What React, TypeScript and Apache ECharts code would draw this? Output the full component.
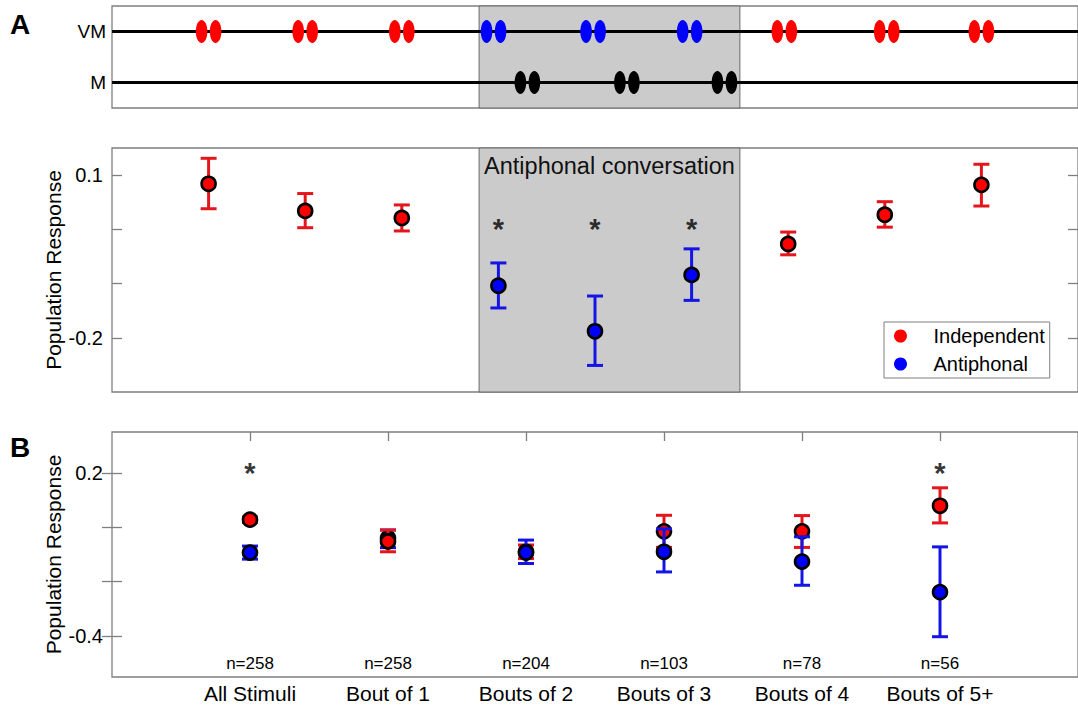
import React, { useEffect, useRef } from 'react';
import * as echarts from 'echarts';

const FONT = '"Liberation Sans", Arial, Helvetica, sans-serif';
const GREY = '#7f7f7f';
const SHADE = '#cbcbcb';
const RED = '#ff0000';
const BLUE = '#0000ff';
const RED_BAR = '#e4161c';
const BLUE_BAR = '#1414e6';

// Panel A, schematic: call pairs along each stream (x in stimulus slots)
const streamRows = ['M', 'VM'];
const vmIndependentCalls = [1, 2, 3, 6.96, 8.02, 9.0];
const vmAntiphonalCalls = [3.95, 4.98, 5.98];
const mCalls = [4.3, 5.33, 6.34];
const conversationStart = 3.8;
const conversationEnd = 6.5;

// Panel A, responses per call slot
const aIndependentSlot = [1, 2, 3, 7, 8, 9];
const aIndependentMean = [0.084, 0.034, 0.021, -0.027, 0.027, 0.082];
const aIndependentLow = [0.038, 0.003, -0.003, -0.047, 0.004, 0.043];
const aIndependentHigh = [0.131, 0.066, 0.045, -0.005, 0.051, 0.12];
const aAntiphonalSlot = [4, 5, 6];
const aAntiphonalMean = [-0.104, -0.188, -0.084];
const aAntiphonalLow = [-0.145, -0.251, -0.131];
const aAntiphonalHigh = [-0.062, -0.123, -0.036];
const aSignificantSlot = [4, 5, 6];
const aStarLevel = 0;
const aYTicks = [-0.2, -0.1, 0, 0.1];
const aYLabels = [-0.2, 0.1];

// Panel B, responses per bout length
const bCategories = ['All Stimuli', 'Bout of 1', 'Bouts of 2', 'Bouts of 3', 'Bouts of 4', 'Bouts of 5+'];
const bCounts = [258, 258, 204, 103, 78, 56];
const bIndependentMean = [0.028, -0.052, -0.09, -0.015, -0.015, 0.079];
const bIndependentLow = [0.018, -0.09, -0.115, -0.074, -0.074, 0.016];
const bIndependentHigh = [0.038, -0.01, -0.065, 0.044, 0.043, 0.145];
const bAntiphonalMean = [-0.093, -0.04, -0.093, -0.09, -0.126, -0.238];
const bAntiphonalLow = [-0.117, -0.075, -0.133, -0.164, -0.213, -0.402];
const bAntiphonalHigh = [-0.069, -0.01, -0.047, -0.006, -0.035, -0.072];
const bIndependentInFront = [false, true, false, false, false, false];
const bSignificant = [true, false, false, false, false, true];
const bStarLevel = 0.2;
const bYTicks = [-0.4, -0.2, 0, 0.2];
const bYLabels = [-0.4, 0.2];
const bSlots = bCategories.map((_, i) => i + 1);

function callPairItem(color: string) {
  return (_params: any, api: any) => {
    const c = api.coord([api.value(0), api.value(1)]);
    return {
      type: 'group',
      children: [-7, 7].map((dx) => ({
        type: 'ellipse',
        shape: { cx: c[0] + dx, cy: c[1], rx: 5.8, ry: 11.5 },
        style: { fill: color },
      })),
    };
  };
}

function errorBarShapes(api: any, barColor: string, fillColor: string) {
  const x = api.value(0);
  const mid = api.coord([x, api.value(1)]);
  const lo = api.coord([x, api.value(2)]);
  const hi = api.coord([x, api.value(3)]);
  const half = 8;
  const barStyle = { stroke: barColor, lineWidth: 3 };
  return [
    { type: 'line', shape: { x1: mid[0], y1: lo[1], x2: mid[0], y2: hi[1] }, style: barStyle },
    { type: 'line', shape: { x1: mid[0] - half, y1: hi[1], x2: mid[0] + half, y2: hi[1] }, style: barStyle },
    { type: 'line', shape: { x1: mid[0] - half, y1: lo[1], x2: mid[0] + half, y2: lo[1] }, style: barStyle },
    {
      type: 'circle',
      shape: { cx: mid[0], cy: mid[1], r: 7 },
      style: { fill: fillColor, stroke: '#000', lineWidth: 2.6 },
    },
  ];
}

function errorBarItem(barColor: string, fillColor: string) {
  return (_params: any, api: any) => ({
    type: 'group',
    children: errorBarShapes(api, barColor, fillColor),
  });
}

// Panel B: both groups in one series so each column keeps its own stacking order
function buildBoutRows() {
  const rows: number[][] = [];
  bSlots.forEach((slot, i) => {
    const ind = [slot, bIndependentMean[i], bIndependentLow[i], bIndependentHigh[i], 0];
    const anti = [slot, bAntiphonalMean[i], bAntiphonalLow[i], bAntiphonalHigh[i], 1];
    if (bIndependentInFront[i]) rows.push(anti, ind);
    else rows.push(ind, anti);
  });
  return rows;
}

const boutItem = (_params: any, api: any) => {
  const isAnti = api.value(4) === 1;
  return {
    type: 'group',
    children: errorBarShapes(api, isAnti ? BLUE_BAR : RED_BAR, isAnti ? BLUE : RED),
  };
};

const starLabel = {
  show: true,
  position: 'inside',
  formatter: '*',
  fontSize: 29,
  fontWeight: 'bold',
  color: '#000',
  fontFamily: FONT,
};

function starSeries(xAxisIndex: number, yAxisIndex: number, data: number[][]) {
  return {
    type: 'scatter',
    xAxisIndex,
    yAxisIndex,
    silent: true,
    z: 4,
    symbol: 'circle',
    symbolSize: 2,
    itemStyle: { color: 'rgba(0,0,0,0)' },
    label: starLabel,
    data,
  };
}

function buildOption() {
  const gridBase = { left: 112, right: -9, show: true, borderColor: GREY, borderWidth: 1.3 };
  const tickLabel = { fontSize: 20, color: '#000', fontFamily: FONT, margin: 9 };
  const yName = {
    name: 'Population Response',
    nameLocation: 'middle',
    nameGap: 48,
    nameMoveOverlap: false,
    nameTextStyle: { fontSize: 21, color: '#000', fontFamily: FONT },
  };
  const hiddenX = (gridIndex: number, max: number) => ({
    gridIndex,
    type: 'value',
    min: 0,
    max,
    show: false,
  });
  const tickStyle = { color: GREY, width: 1.3 };

  return {
    animation: false,
    backgroundColor: '#ffffff',
    textStyle: { fontFamily: FONT },
    grid: [
      { ...gridBase, top: 6, height: 102 },
      { ...gridBase, top: 148, height: 244 },
      { ...gridBase, top: 432, height: 245 },
    ],
    xAxis: [
      hiddenX(0, 10),
      hiddenX(1, 10),
      {
        gridIndex: 2,
        type: 'value',
        min: 0,
        max: 7,
        position: 'bottom',
        axisLine: { show: false },
        axisTick: { show: false },
        splitLine: { show: false },
        axisLabel: {
          customValues: bSlots,
          fontSize: 21,
          color: '#000',
          fontFamily: FONT,
          margin: 6,
          formatter: (v: number) => bCategories[Math.round(v) - 1] ?? '',
        },
      },
      {
        gridIndex: 2,
        type: 'value',
        min: 0,
        max: 7,
        position: 'bottom',
        axisLine: { show: false },
        axisTick: { show: false },
        splitLine: { show: false },
        axisLabel: {
          customValues: bSlots,
          inside: true,
          fontSize: 17,
          color: '#000',
          fontFamily: FONT,
          margin: 5,
          formatter: (v: number) => `n=${bCounts[Math.round(v) - 1]}`,
        },
      },
      {
        gridIndex: 2,
        type: 'value',
        min: 0,
        max: 7,
        position: 'top',
        axisLine: { show: false },
        splitLine: { show: false },
        axisLabel: { show: false },
        axisTick: { customValues: bSlots, inside: true, length: 9, lineStyle: tickStyle },
      },
    ],
    yAxis: [
      {
        gridIndex: 0,
        type: 'category',
        data: streamRows,
        axisLine: { show: false },
        axisTick: { show: false },
        axisLabel: { fontSize: 19, color: '#000', fontFamily: FONT, margin: 6 },
      },
      {
        gridIndex: 1,
        type: 'value',
        min: -0.3,
        max: 0.15,
        position: 'left',
        ...yName,
        axisLine: { show: false },
        splitLine: { show: false },
        axisTick: { customValues: aYTicks, inside: true, length: 10, lineStyle: tickStyle },
        axisLabel: { ...tickLabel, customValues: aYLabels },
      },
      {
        gridIndex: 1,
        type: 'value',
        min: -0.3,
        max: 0.15,
        position: 'right',
        axisLine: { show: false },
        splitLine: { show: false },
        axisLabel: { show: false },
        axisTick: { customValues: aYTicks, inside: true, length: 10, lineStyle: tickStyle },
      },
      {
        gridIndex: 2,
        type: 'value',
        min: -0.55,
        max: 0.35,
        position: 'left',
        ...yName,
        axisLine: { show: false },
        splitLine: { show: false },
        axisTick: { customValues: bYTicks, inside: true, length: 10, lineStyle: tickStyle },
        axisLabel: { ...tickLabel, customValues: bYLabels },
      },
      {
        gridIndex: 2,
        type: 'value',
        min: -0.55,
        max: 0.35,
        position: 'right',
        axisLine: { show: false },
        splitLine: { show: false },
        axisLabel: { show: false },
        axisTick: { customValues: bYTicks, inside: true, length: 10, lineStyle: tickStyle },
      },
    ],
    legend: {
      orient: 'vertical',
      left: 884,
      top: 322,
      padding: [4, 5, 4, 10],
      itemWidth: 56,
      itemHeight: 13,
      itemGap: 8,
      selectedMode: false,
      backgroundColor: '#ffffff',
      borderColor: GREY,
      borderWidth: 1,
      borderRadius: 0,
      itemStyle: { borderWidth: 0 },
      textStyle: { fontSize: 20, lineHeight: 20, color: '#000', fontFamily: FONT },
      data: [
        { name: 'Independent', icon: 'circle' },
        { name: 'Antiphonal', icon: 'circle' },
      ],
    },
    graphic: [
      { type: 'text', left: 10, top: 10, style: { text: 'A', fontSize: 28, fontWeight: 'bold', fill: '#000', fontFamily: FONT } },
      { type: 'text', left: 10, top: 433, style: { text: 'B', fontSize: 28, fontWeight: 'bold', fill: '#000', fontFamily: FONT } },
    ],
    series: [
      // conversation shading, schematic
      {
        type: 'line',
        xAxisIndex: 0,
        yAxisIndex: 0,
        data: [],
        z: 0,
        silent: true,
        markArea: {
          silent: true,
          itemStyle: { color: SHADE, borderColor: '#6a6a6a', borderWidth: 1 },
          data: [[{ xAxis: conversationStart }, { xAxis: conversationEnd }]],
        },
      },
      ...streamRows.map((row) => ({
        type: 'line',
        xAxisIndex: 0,
        yAxisIndex: 0,
        silent: true,
        symbol: 'none',
        z: 2,
        lineStyle: { color: '#000', width: 3 },
        data: [
          [0, row],
          [10, row],
        ],
      })),
      {
        type: 'custom',
        xAxisIndex: 0,
        yAxisIndex: 0,
        silent: true,
        z: 3,
        renderItem: callPairItem(RED),
        data: vmIndependentCalls.map((x) => [x, 'VM']),
      },
      {
        type: 'custom',
        xAxisIndex: 0,
        yAxisIndex: 0,
        silent: true,
        z: 3,
        renderItem: callPairItem(BLUE),
        data: vmAntiphonalCalls.map((x) => [x, 'VM']),
      },
      {
        type: 'custom',
        xAxisIndex: 0,
        yAxisIndex: 0,
        silent: true,
        z: 3,
        renderItem: callPairItem('#000'),
        data: mCalls.map((x) => [x, 'M']),
      },
      // conversation shading, responses
      {
        type: 'line',
        xAxisIndex: 1,
        yAxisIndex: 1,
        data: [],
        z: 0,
        silent: true,
        markArea: {
          silent: true,
          itemStyle: { color: SHADE, borderColor: '#6a6a6a', borderWidth: 1 },
          label: {
            show: true,
            position: 'insideTop',
            distance: 6,
            formatter: 'Antiphonal conversation',
            fontSize: 23.5,
            color: '#111',
            fontFamily: FONT,
          },
          data: [[{ xAxis: conversationStart }, { xAxis: conversationEnd }]],
        },
      },
      {
        name: 'Independent',
        type: 'custom',
        xAxisIndex: 1,
        yAxisIndex: 1,
        silent: true,
        z: 3,
        itemStyle: { color: RED },
        renderItem: errorBarItem(RED_BAR, RED),
        data: aIndependentSlot.map((x, i) => [x, aIndependentMean[i], aIndependentLow[i], aIndependentHigh[i]]),
      },
      {
        name: 'Antiphonal',
        type: 'custom',
        xAxisIndex: 1,
        yAxisIndex: 1,
        silent: true,
        z: 3,
        itemStyle: { color: BLUE },
        renderItem: errorBarItem(BLUE_BAR, BLUE),
        data: aAntiphonalSlot.map((x, i) => [x, aAntiphonalMean[i], aAntiphonalLow[i], aAntiphonalHigh[i]]),
      },
      starSeries(1, 1, aSignificantSlot.map((x) => [x, aStarLevel])),
      {
        type: 'custom',
        xAxisIndex: 2,
        yAxisIndex: 3,
        silent: true,
        z: 3,
        renderItem: boutItem,
        data: buildBoutRows(),
      },
      starSeries(2, 3, bSlots.filter((_, i) => bSignificant[i]).map((x) => [x, bStarLevel])),
    ],
  };
}

export default function App() {
  const ref = useRef<HTMLDivElement>(null);
  useEffect(() => {
    if (!ref.current) return;
    const chart = echarts.init(ref.current, undefined, { renderer: 'svg' });
    chart.setOption(buildOption() as any);
    return () => chart.dispose();
  }, []);
  return (
    <div
      ref={ref}
      style={{ position: 'absolute', left: 0, top: 0, width: 1078, height: 705, background: '#fff' }}
    />
  );
}
